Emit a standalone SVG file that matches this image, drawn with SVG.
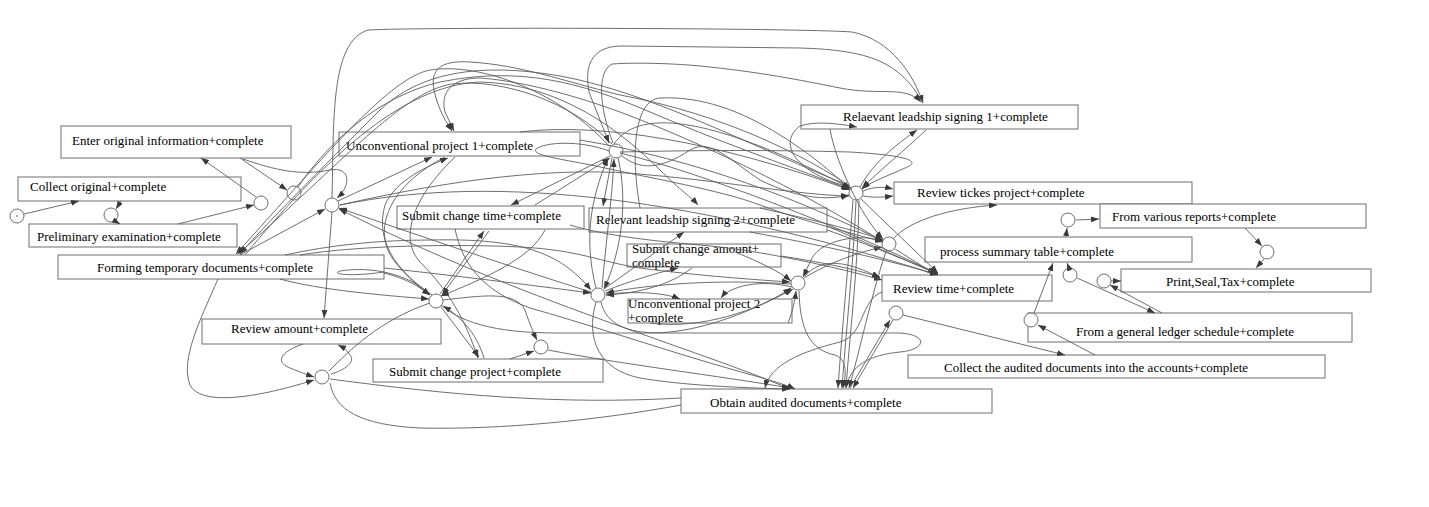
<svg xmlns="http://www.w3.org/2000/svg" width="1429" height="507" viewBox="0 0 1429 507">
<style>
.box{fill:#fff;stroke:#6e6e6e;stroke-width:1}
.pl{fill:#fff;stroke:#6e6e6e;stroke-width:1}
.lbl{font-family:"Liberation Serif","Times New Roman",serif;font-size:13px;fill:#000}
.e{fill:none;stroke:#5e5e5e;stroke-width:0.9}
.e path{marker-end:url(#ah)}
.e path.n{marker-end:none}
</style>
<defs>
<marker id="ah" markerWidth="8" markerHeight="6" refX="8" refY="3" orient="auto" markerUnits="userSpaceOnUse">
<path d="M0,0 L8,3 L0,6 z" fill="#3a3a3a"/>
</marker>
</defs>
<rect width="1429" height="507" fill="#fff"/>

<!-- transitions -->
<g id="enter-original"><rect class="box" x="61" y="126" width="230" height="32"/><text class="lbl" x="72" y="145">Enter original information+complete</text></g>
<g id="collect-original"><rect class="box" x="18" y="177" width="223" height="24"/><text class="lbl" x="30" y="191">Collect original+complete</text></g>
<g id="preliminary-exam"><rect class="box" x="29" y="224" width="208" height="23"/><text class="lbl" x="37" y="241">Preliminary examination+complete</text></g>
<g id="forming-temp"><rect class="box" x="58" y="255" width="326" height="24"/><text class="lbl" x="97" y="272">Forming temporary documents+complete</text></g>
<g id="unconv-1"><rect class="box" x="339" y="132" width="241" height="24"/><text class="lbl" x="346" y="150">Unconventional project 1+complete</text></g>
<g id="submit-time"><rect class="box" x="397" y="206" width="187" height="23"/><text class="lbl" x="402" y="220">Submit change time+complete</text></g>
<g id="leader-2"><rect class="box" x="589" y="208" width="238" height="24"/><text class="lbl" x="596" y="224">Relevant leadship signing 2+complete</text></g>
<g id="submit-amount"><rect class="box" x="627" y="244" width="154" height="23"/><text class="lbl" x="632" y="253">Submit change amount+</text><text class="lbl" x="632" y="267">complete</text></g>
<g id="unconv-2"><rect class="box" x="628" y="299" width="164" height="24"/><text class="lbl" x="628" y="308">Unconventional project 2</text><text class="lbl" x="628" y="322">+complete</text></g>
<g id="leader-1"><rect class="box" x="801" y="105" width="277" height="24"/><text class="lbl" x="843" y="121">Relaevant leadship signing 1+complete</text></g>
<g id="review-tickets"><rect class="box" x="894" y="182" width="298" height="22"/><text class="lbl" x="917" y="197">Review tickes project+complete</text></g>
<g id="various-reports"><rect class="box" x="1100" y="204" width="266" height="24"/><text class="lbl" x="1112" y="221">From various reports+complete</text></g>
<g id="summary-table"><rect class="box" x="925" y="237" width="267" height="25"/><text class="lbl" x="940" y="256">process summary table+complete</text></g>
<g id="print-seal-tax"><rect class="box" x="1121" y="269" width="250" height="23"/><text class="lbl" x="1166" y="286">Print,Seal,Tax+complete</text></g>
<g id="review-time"><rect class="box" x="882" y="275" width="170" height="26"/><text class="lbl" x="893" y="293">Review time+complete</text></g>
<g id="ledger-schedule"><rect class="box" x="1028" y="313" width="324" height="29"/><text class="lbl" x="1076" y="336">From a general ledger schedule+complete</text></g>
<g id="collect-audited"><rect class="box" x="908" y="355" width="417" height="23"/><text class="lbl" x="944" y="372">Collect the audited documents into the accounts+complete</text></g>
<g id="obtain-audited"><rect class="box" x="681" y="389" width="311" height="24"/><text class="lbl" x="710" y="407">Obtain audited documents+complete</text></g>
<g id="review-amount"><rect class="box" x="202" y="319" width="239" height="25"/><text class="lbl" x="231" y="333">Review amount+complete</text></g>
<g id="submit-project"><rect class="box" x="373" y="359" width="230" height="23"/><text class="lbl" x="389" y="376">Submit change project+complete</text></g>

<!-- places -->
<g id="p-start"><circle class="pl" cx="17" cy="216" r="7"/><circle cx="17" cy="216" r="0.8" fill="#444"/></g>
<g id="p-a"><circle class="pl" cx="111" cy="215" r="7"/></g>
<g id="p-b"><circle class="pl" cx="261" cy="203" r="7"/></g>
<g id="p-c"><circle class="pl" cx="294" cy="193" r="7"/></g>
<g id="p-d"><circle class="pl" cx="332" cy="205" r="7"/></g>
<g id="p-e"><circle class="pl" cx="616" cy="151" r="7"/></g>
<g id="p-f"><circle class="pl" cx="436" cy="301" r="7"/></g>
<g id="p-g"><circle class="pl" cx="541" cy="347" r="7"/></g>
<g id="p-h"><circle class="pl" cx="322" cy="377" r="7"/></g>
<g id="p-i"><circle class="pl" cx="598" cy="295" r="7"/></g>
<g id="p-j"><circle class="pl" cx="798" cy="283" r="7"/></g>
<g id="p-k"><circle class="pl" cx="856" cy="193" r="7"/></g>
<g id="p-l"><circle class="pl" cx="889" cy="244" r="7"/></g>
<g id="p-m"><circle class="pl" cx="896" cy="313" r="7"/></g>
<g id="p-n"><circle class="pl" cx="1068" cy="220" r="7"/></g>
<g id="p-o"><circle class="pl" cx="1267" cy="252" r="7"/></g>
<g id="p-p"><circle class="pl" cx="1070" cy="275" r="7"/></g>
<g id="p-q"><circle class="pl" cx="1104" cy="281" r="7"/></g>
<g id="p-r"><circle class="pl" cx="1031" cy="320" r="7"/></g>

<!-- arcs -->
<g id="connectors" class="e">
<path d="M24,214 L79,201"/>
<path d="M121,201 L116,209"/>
<path d="M115,221 L120,224"/>
<path d="M178,224 L254,205"/>
<path d="M256,197 L201,158"/>
<path d="M240,158 L287,190"/>
<path d="M243,159 C275,170 300,176 330,170 C350,166 352,185 337,198"/>
<path d="M332,198 C334,120 330,42 368,30 C420,27 800,28 852,32 C892,40 914,76 923,103"/>
<path d="M338,201 L432,157"/>
<path d="M240,255 L325,209"/>
<path d="M332,212 L324,318"/>
<path d="M609,146 C560,92 480,62 430,70 C390,78 330,150 236,254"/>
<path d="M612,144 C572,102 502,78 452,84 C402,92 345,160 238,254"/>
<path d="M850,186 C760,150 650,92 560,76 C480,62 420,72 380,110 C322,168 262,228 240,254"/>
<path d="M298,187 C330,140 380,96 440,82 C520,66 580,82 650,112 C730,146 800,170 849,189"/>
<path d="M923,103 C900,62 870,50 800,48 L622,46 C588,46 585,70 589,92 L609,143"/>
<path d="M613,143 C600,110 596,72 612,64 C640,62 680,64 700,66 C760,72 800,80 840,88 C880,96 905,85 921,102"/>
<path d="M591,292 C520,270 420,236 339,208"/>
<path d="M790,389 C700,350 520,300 339,209"/>
<path d="M285,255 C330,245 380,240 430,240 C520,238 560,252 591,290"/>
<path class="n" d="M384,272 C350,277 330,274 340,271 C372,266 408,274 430,294"/>
<path d="M445,157 C390,185 370,230 395,262 C410,280 420,288 430,295"/>
<path d="M432,295 C395,270 375,240 385,205 C395,180 430,165 448,158"/>
<path d="M455,157 C410,200 400,240 420,262 C450,292 465,320 478,358"/>
<path d="M441,307 L479,357"/>
<path d="M484,358 C476,332 460,316 443,306"/>
<path d="M443,300 C480,296 515,290 525,310 C530,325 534,334 537,340"/>
<path d="M510,359 L534,351"/>
<path d="M548,350 C620,364 720,376 790,388"/>
<path d="M440,294 L484,231"/>
<path d="M489,231 L442,295"/>
<path d="M610,156 L511,205"/>
<path d="M535,205 L610,158"/>
<path d="M570,225 C600,234 640,240 700,245 C760,250 840,268 882,280"/>
<path d="M596,288 C584,240 590,200 608,158"/>
<path d="M602,288 C606,240 612,200 614,159"/>
<path d="M618,158 C628,200 622,250 604,289"/>
<path d="M612,158 L603,206"/>
<path d="M245,255 C320,165 400,85 480,82 C560,84 620,130 660,170 C680,190 692,198 698,205"/>
<path d="M604,289 L684,232"/>
<path d="M605,291 C630,281 660,272 678,268"/>
<path d="M692,268 C670,285 640,293 606,295"/>
<path d="M606,294 C640,291 665,293 680,299"/>
<path d="M791,284 C720,279 650,284 606,293"/>
<path d="M792,287 C760,279 730,286 721,298"/>
<path d="M788,323 C793,310 795,300 796,291"/>
<path d="M735,252 C760,262 780,272 791,281"/>
<path d="M804,278 C830,262 860,252 882,247"/>
<path d="M883,241 C860,233 822,240 812,258 L803,277"/>
<path d="M799,291 C800,330 810,350 835,355 C848,360 846,375 843,388"/>
<path d="M805,276 C822,256 850,262 880,278"/>
<path d="M863,191 C875,186 885,187 893,189"/>
<path d="M863,196 C875,198 885,197 893,196"/>
<path d="M860,187 C875,160 900,142 917,130"/>
<path d="M926,130 C905,150 880,170 862,188"/>
<path d="M852,188 C792,172 778,142 800,126 C815,121 835,123 857,127"/>
<path d="M620,152 C700,150 780,150 850,152 C900,155 925,160 905,168 C890,175 870,182 862,189"/>
<path d="M853,200 C848,270 842,330 838,388"/>
<path d="M856,201 C853,270 846,330 842,388"/>
<path d="M859,200 C858,270 850,330 846,388"/>
<path d="M886,251 C870,300 860,350 849,388"/>
<path d="M850,388 L890,320"/>
<path d="M893,320 L853,388"/>
<path d="M903,315 L1065,355"/>
<path d="M1095,355 L1038,325"/>
<path d="M1034,313 L1053,263"/>
<path d="M1066,237 L1067,228"/>
<path d="M1076,220 L1099,219"/>
<path d="M1245,228 L1262,246"/>
<path d="M1264,259 L1256,268"/>
<path d="M1069,268 L1067,263"/>
<path d="M1077,278 L1155,313"/>
<path d="M1162,313 L1110,285"/>
<path d="M1111,281 L1121,281"/>
<path d="M893,239 C910,220 950,208 997,205"/>
<path d="M895,249 L935,274"/>
<path d="M620,153 C700,172 850,230 938,274"/>
<path d="M861,199 L938,273"/>
<path d="M827,226 L938,274"/>
<path d="M340,205 C500,172 700,200 938,275"/>
<path d="M580,140 C700,160 800,200 883,241"/>
<path d="M760,208 C790,215 850,228 883,240"/>
<path d="M614,144 C640,105 720,120 850,188"/>
<path d="M520,132 C600,122 720,142 850,190"/>
<path d="M850,186 C780,140 700,110 620,95 C560,80 520,65 470,62 C440,60 430,70 434,90 C438,110 448,125 452,131"/>
<path d="M880,240 C800,190 700,142 620,112 C560,90 510,80 480,78 C452,78 440,92 445,112 L454,131"/>
<path d="M640,208 C630,150 635,100 660,98 C700,96 740,110 780,135 C820,160 840,180 850,190"/>
<path d="M622,156 C640,170 660,170 690,150 C710,138 730,160 760,180 C800,200 830,200 849,195"/>
<path d="M340,205 C450,180 560,165 650,175 C730,182 800,195 849,196"/>
<path d="M300,255 C360,245 460,244 520,247 C580,250 600,262 640,268 C700,276 760,280 790,282"/>
<path d="M384,268 C450,275 530,285 591,293"/>
<path d="M384,273 C405,278 420,287 430,295"/>
<path d="M280,279 C320,290 380,295 429,299"/>
<path d="M545,230 C530,260 480,280 441,296"/>
<path class="n" d="M330,383 C335,410 360,425 420,428 C500,430 600,420 681,405"/>
<path class="n" d="M330,379 C450,395 560,405 681,398"/>
<path d="M455,229 C462,262 480,290 530,308 C580,322 650,345 700,360 C750,375 780,382 795,389"/>
<path d="M303,344 C280,352 275,362 290,368 C300,372 308,375 314,377"/>
<path d="M331,374 C345,370 356,362 350,355 C347,350 342,347 338,345"/>
<path d="M218,279 C200,320 180,360 190,385 C200,405 250,400 314,380"/>
<path class="n" d="M329,371 C350,350 380,320 430,303"/>
<path d="M609,151 C580,140 545,142 536,149 C530,156 570,160 605,168 C650,178 720,190 760,205 C800,220 840,230 883,242"/>
<path d="M596,302 C585,340 600,370 640,378 C680,385 740,388 790,389"/>
<path d="M650,323 C700,330 760,310 791,288"/>
<path d="M601,302 C610,345 690,345 793,289"/>
<path d="M441,305 C470,330 520,333 560,333 L900,333 C930,335 925,350 900,352 C870,355 850,365 846,388"/>
<path d="M882,292 C860,300 865,335 840,342 C800,352 770,365 765,388"/>
<path d="M781,256 C820,262 850,268 880,277"/>
<path d="M827,230 C870,245 910,262 938,274"/>
<path d="M750,232 C820,245 890,260 938,275"/>
<path d="M830,129 C835,160 860,215 883,239"/>
</g>
</svg>
